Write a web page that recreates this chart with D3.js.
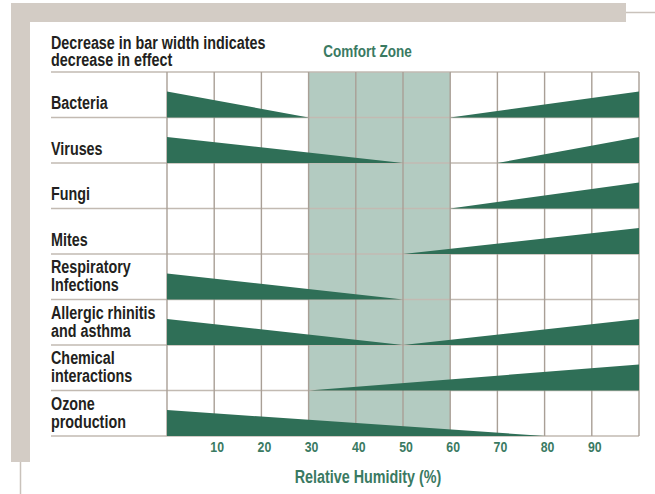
<!DOCTYPE html>
<html>
<head>
<meta charset="utf-8">
<script src="https://cdn.jsdelivr.net/npm/d3@7"></script>
<style>
  html, body { margin: 0; padding: 0; background: #ffffff; }
  svg { display: block; }
  text { font-family: "Liberation Sans", Arial, sans-serif; font-weight: bold; }
</style>
</head>
<body>
<svg id="chart" width="655" height="494"></svg>
<script>
// ---- data ----
const categories = [
  ["Bacteria"],
  ["Viruses"],
  ["Fungi"],
  ["Mites"],
  ["Respiratory", "Infections"],
  ["Allergic rhinitis", "and asthma"],
  ["Chemical", "interactions"],
  ["Ozone", "production"]
];
// humidity where the low-humidity wedge (full effect at 0%) reaches zero; null = none
const decreasingEnd = [30, 50, null, null, 50, 50, null, 80];
// humidity where the high-humidity wedge starts growing (full effect at 100%); null = none
const increasingStart = [60, 70, 60, 50, null, 50, 30, null];
const comfortZone = [30, 60];
const gridValues = [0, 10, 20, 30, 40, 50, 60, 70, 80, 90, 100];
const tickLabels = [10, 20, 30, 40, 50, 60, 70, 80, 90];
const headingLines = ["Decrease in bar width indicates", "decrease in effect"];
const comfortTitle = "Comfort Zone";
const axisTitle = "Relative Humidity (%)";

// ---- layout ----
const svg = d3.select("#chart");
const green = "#2f6f57";
const textGreen = "#3a7a62";
const dark = "#231f20";
const frame = "#d3ccc5";
const SX = 0.82; // condensed look

function label(parent, tx, ty, str, size, fill, anchor) {
  return parent.append("text")
    .attr("transform", `translate(${tx},${ty}) scale(${SX},1)`)
    .attr("text-anchor", anchor || "start")
    .attr("font-size", size)
    .attr("fill", fill)
    .text(str);
}

const x = d3.scaleLinear().domain([0, 100]).range([167, 639]);
const y = d3.scaleBand().domain(d3.range(categories.length)).range([72, 436]).padding(0);
const thick = d3.scaleLinear().domain([0, 1]).range([0, 26]);

// frame decoration
svg.append("rect").attr("x", 11).attr("y", 3).attr("width", 615).attr("height", 19).attr("fill", frame);
svg.append("rect").attr("x", 11).attr("y", 3).attr("width", 19).attr("height", 459).attr("fill", frame);
svg.append("line").attr("x1", 626).attr("x2", 655).attr("y1", 12.5).attr("y2", 12.5).attr("stroke", "#c9c2bb").attr("stroke-width", 1.5);
svg.append("line").attr("x1", 20.5).attr("x2", 20.5).attr("y1", 462).attr("y2", 494).attr("stroke", "#c9c2bb").attr("stroke-width", 1.5);

// comfort zone
svg.append("rect")
  .attr("x", x(comfortZone[0])).attr("y", y.range()[0])
  .attr("width", x(comfortZone[1]) - x(comfortZone[0]))
  .attr("height", y.range()[1] - y.range()[0])
  .attr("fill", "#b3cbc1");

// horizontal row lines
const rowEdges = d3.range(categories.length + 1).map(i => i === categories.length ? y.range()[1] : y(i));
svg.append("g").selectAll("line").data(rowEdges).join("line")
  .attr("x1", 51).attr("x2", x(100))
  .attr("y1", d => d).attr("y2", d => d)
  .attr("stroke", "#c2bab2").attr("stroke-width", 1.6);

// vertical grid lines
svg.append("g").selectAll("line").data(gridValues).join("line")
  .attr("x1", d => x(d)).attr("x2", d => x(d))
  .attr("y1", y.range()[0]).attr("y2", y.range()[1])
  .attr("stroke", "#a99f96").attr("stroke-width", 1.4);

// wedges
const wedges = [];
categories.forEach((c, i) => {
  if (decreasingEnd[i] != null) wedges.push({ row: i, x0: 0, x1: decreasingEnd[i], w0: 1, w1: 0 });
  if (increasingStart[i] != null) wedges.push({ row: i, x0: increasingStart[i], x1: 100, w0: 0, w1: 1 });
});
svg.append("g").selectAll("path").data(wedges).join("path")
  .attr("d", d => {
    const base = y(d.row) + y.bandwidth();
    return `M${x(d.x0)},${base} L${x(d.x0)},${base - thick(d.w0)} L${x(d.x1)},${base - thick(d.w1)} L${x(d.x1)},${base} Z`;
  })
  .attr("fill", green);

// row labels
const lab = svg.append("g");
categories.forEach((lines, i) => {
  const baseY = y(i) + 37.3;
  lines.forEach((ln, j) => {
    label(lab, 51, baseY - (lines.length - 1 - j) * 18, ln, 17.5, dark);
  });
});

// heading
headingLines.forEach((ln, j) => {
  label(svg, 51, 49.3 + j * 17, ln, 17.5, dark);
});
label(svg, 367.5, 57.3, comfortTitle, 16.5, textGreen, "middle");

// x tick labels
const tg = svg.append("g");
tickLabels.forEach(d => label(tg, x(d) + 3, 451.7, d, 15, textGreen, "middle"));

label(svg, 368, 482.7, axisTitle, 17.5, textGreen, "middle");
</script>
</body>
</html>
